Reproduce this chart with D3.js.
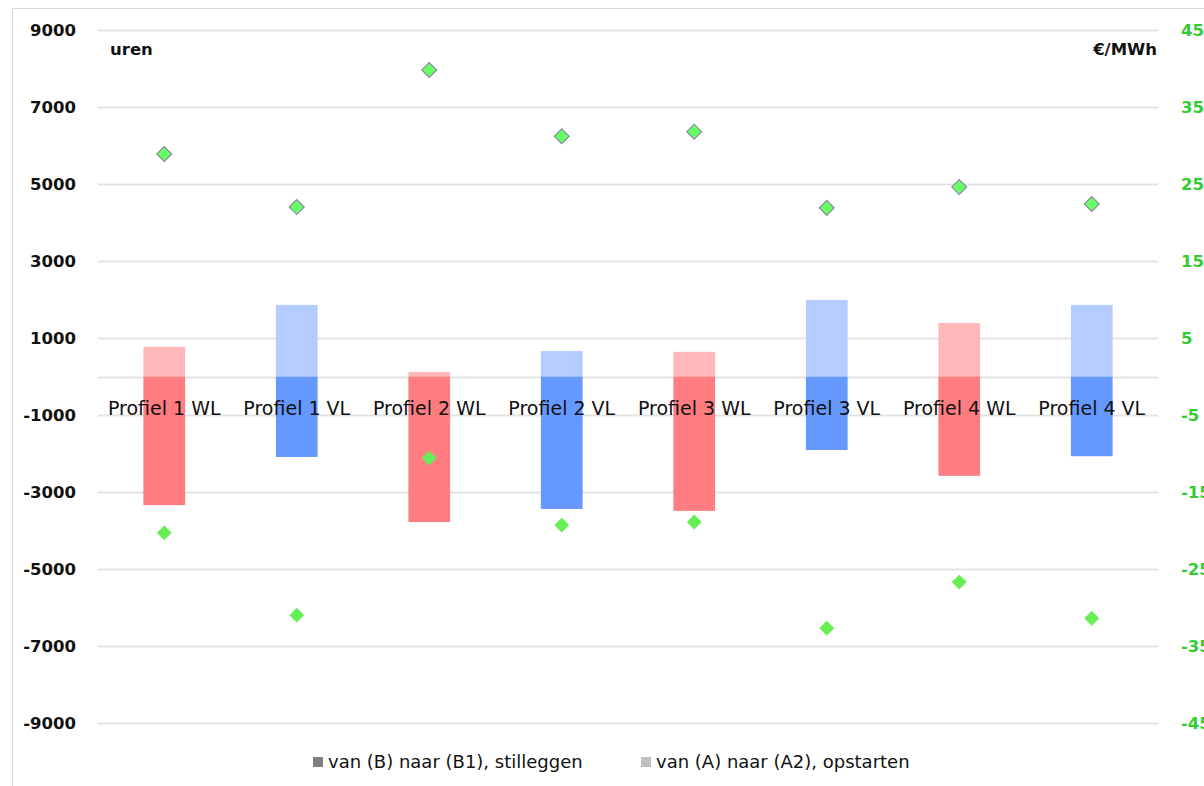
<!DOCTYPE html>
<html><head><meta charset="utf-8">
<script src="https://cdn.jsdelivr.net/npm/d3@7/dist/d3.min.js"></script>
<style>body{margin:0;background:#fff;}svg{display:block;font-family:"DejaVu Sans",sans-serif;}</style>
</head><body><svg id="c" width="1204" height="786"></svg>
<script>
const categories = ["Profiel 1 WL","Profiel 1 VL","Profiel 2 WL","Profiel 2 VL","Profiel 3 WL","Profiel 3 VL","Profiel 4 WL","Profiel 4 VL"];
const kind = ["WL","VL","WL","VL","WL","VL","WL","VL"];
const stilleggen = [-3340,-2090,-3780,-3440,-3490,-1910,-2580,-2070];
const opstarten = [770,1860,120,660,640,1990,1390,1860];
const priceHigh = [28.9,22.0,39.8,31.2,31.8,21.9,24.6,22.4];
const priceLow = [-20.3,-31.0,-10.6,-19.3,-18.9,-32.7,-26.7,-31.4];
const leftTicks = [9000,7000,5000,3000,1000,-1000,-3000,-5000,-7000,-9000];
const rightTicks = [45,35,25,15,5,-5,-15,-25,-35,-45];
const legendLabels = ["van (B) naar (B1), stilleggen","van (A) naar (A2), opstarten"];

const svg = d3.select("#c");
const L = 98, R = 1158, T = 30, B = 723;
const x = d3.scaleBand().domain(categories).range([L, R]).paddingInner(0.685).paddingOuter(0.3425);
const y = d3.scaleLinear().domain([-9000, 9000]).range([B, T]);
const y2 = d3.scaleLinear().domain([-45, 45]).range([B, T]);
const col = {WL:{dark:"#FF7C80", light:"#FFB9BC"}, VL:{dark:"#6699FF", light:"#B4CCFF"}};
const fmt = d => String(d);

// border
svg.append("path").attr("d","M12.5,786 V8.5 H1204").attr("fill","none").attr("stroke","#d9d9d9");

// gridlines
svg.append("g").selectAll("line").data(leftTicks.concat([0])).join("line")
  .attr("x1", L).attr("x2", R).attr("y1", d=>Math.round(y(d))+0.5).attr("y2", d=>Math.round(y(d))+0.5)
  .attr("stroke","#e3e3e3").attr("stroke-width",2);

// left axis
const ga = svg.append("g").attr("transform",`translate(76,0)`)
  .call(d3.axisLeft(y).tickValues(leftTicks).tickSize(0).tickPadding(0).tickFormat(fmt));
ga.select(".domain").remove();
ga.selectAll("text").attr("font-size",16.5).attr("font-weight","bold").attr("fill","#111").attr("font-family","'DejaVu Sans',sans-serif");

// right axis
const gb = svg.append("g").attr("transform",`translate(1181,0)`)
  .call(d3.axisRight(y2).tickValues(rightTicks).tickSize(0).tickPadding(0).tickFormat(fmt));
gb.select(".domain").remove();
gb.selectAll("text").attr("font-size",16.5).attr("font-weight","bold").attr("fill","#33CC33").attr("font-family","'DejaVu Sans',sans-serif");

// bars
const bars = svg.append("g");
bars.selectAll("rect.o").data(categories).join("rect")
  .attr("x", d=>x(d)).attr("width", x.bandwidth())
  .attr("y", (d,i)=>y(opstarten[i])).attr("height",(d,i)=>y(0)-y(opstarten[i]))
  .attr("fill",(d,i)=>col[kind[i]].light);
bars.selectAll("rect.s").data(categories).join("rect")
  .attr("x", d=>x(d)).attr("width", x.bandwidth())
  .attr("y", y(0)).attr("height",(d,i)=>y(stilleggen[i])-y(0))
  .attr("fill",(d,i)=>col[kind[i]].dark);

// category labels
svg.append("g").selectAll("text").data(categories).join("text")
  .attr("x", d=>x(d)+x.bandwidth()/2).attr("y", 415)
  .attr("text-anchor","middle").attr("font-size",19).attr("fill","#111").text(d=>d);

// diamonds
const cx = d=>x(d)+x.bandwidth()/2;
svg.append("g").selectAll("path").data(categories).join("path")
  .attr("d", d3.symbol().type(d3.symbolSquare).size(110)())
  .attr("transform",(d,i)=>`translate(${cx(d)},${y2(priceHigh[i])}) rotate(45)`)
  .attr("fill","#66FF66").attr("stroke","#8a8aa0").attr("stroke-width",1.2);
svg.append("g").selectAll("path").data(categories).join("path")
  .attr("d", d3.symbol().type(d3.symbolSquare).size(110)())
  .attr("transform",(d,i)=>`translate(${cx(d)},${y2(priceLow[i])}) rotate(45)`)
  .attr("fill","#66EE55");

// unit labels
svg.append("text").attr("x",110).attr("y",55).attr("font-size",16.5).attr("font-weight","bold").attr("fill","#111").text("uren");
svg.append("text").attr("x",1157).attr("y",55).attr("text-anchor","end").attr("font-size",16.5).attr("font-weight","bold").attr("fill","#111").text("€/MWh");

// legend
const lg = svg.append("g");
const lx = [313, 641], lcol = ["#7f7f7f","#c0c0c0"];
legendLabels.forEach((t,i)=>{
  lg.append("rect").attr("x",lx[i]).attr("y",757).attr("width",10).attr("height",10).attr("fill",lcol[i]);
  lg.append("text").attr("x",lx[i]+15).attr("y",768).attr("font-size",18).attr("fill","#111").text(t);
});
</script></body></html>
